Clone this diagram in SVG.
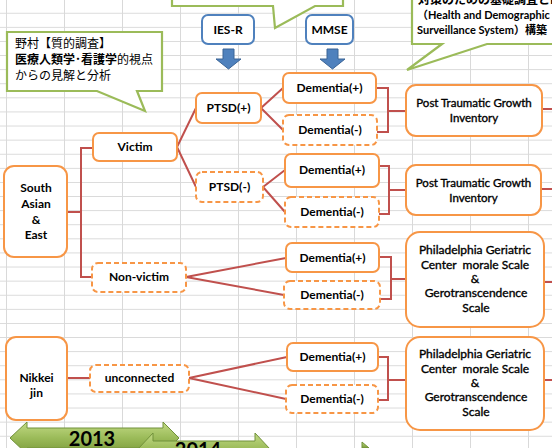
<svg xmlns="http://www.w3.org/2000/svg" width="552" height="448" viewBox="0 0 552 448">
<defs>
<pattern id="grid" x="0" y="-0.4" width="58" height="14.1" patternUnits="userSpaceOnUse">
<path d="M6.5 0V14.1" stroke="#d9d9d9" stroke-width="1" fill="none"/>
<path d="M0 13.6H58" stroke="#d9d9d9" stroke-width="1" fill="none"/>
</pattern>
<linearGradient id="green" x1="0" y1="0" x2="0" y2="1">
<stop offset="0" stop-color="#c2da85"/>
<stop offset="0.5" stop-color="#9bbb59"/>
<stop offset="1" stop-color="#7a9a3a"/>
</linearGradient>
<style>
.node{fill:#fff;stroke:#f79646;stroke-width:2}
.dash{stroke-dasharray:5 3}
.blue{fill:#fff;stroke:#4f81bd;stroke-width:2}
.barrow{fill:#4f81bd;stroke:#3a6496;stroke-width:1}
.call{fill:#fff;stroke:#9bbb59;stroke-width:2.2}
.con{fill:none;stroke:#c0504d;stroke-width:2}
.t{font-family:Lato,"Liberation Sans","Noto Sans CJK JP",sans-serif;font-weight:bold;font-size:12px;fill:#000;text-anchor:middle}
.m{font-weight:normal;stroke:#000;stroke-width:0.35}
.p{font-size:11.5px}
.s{font-size:12px}
.c{font-size:11px;text-anchor:start}
.j{font-family:"Noto Sans CJK JP",sans-serif;font-size:12px;fill:#000}
.yr{font-family:Lato,"Liberation Sans",sans-serif;font-weight:bold;font-size:20px;fill:#000;text-anchor:middle}
.garrow{fill:url(#green);stroke:#71913a;stroke-width:1}
</style>
</defs>
<rect x="0" y="0" width="552" height="448" fill="#fff"/>
<rect x="0" y="0" width="552" height="448" fill="url(#grid)"/>

<g id="callout-top">
<path class="call" d="M172 -5V6H273L275 28L315 6H343V-5"/>
</g>
<g id="callout-right">
<path class="call" d="M412 -5V44H442L407 70L487 44H560V-5Z"/>
<text class="j" font-weight="bold" font-size="11" x="418" y="4">対策のための基礎調査とH</text>
<text class="t c" x="417" y="19">（Health and Demographic</text>
<text class="t c" x="417" y="34">Surveillance System）構築</text>
</g>
<g id="callout-left">
<path class="call" d="M7 32H162V91H137L145 111L97 91H7Z"/>
<text class="j" x="15" y="48">野村【質的調査】</text>
<text class="j" x="15" y="64"><tspan font-weight="bold">医療人類学･看護学</tspan>的視点</text>
<text class="j" x="15" y="80">からの見解と分析</text>
</g>

<g id="ies-r">
<rect class="blue" x="202" y="15" width="52" height="29" rx="6"/>
<text class="t" x="228" y="34">IES-R</text>
<path class="barrow" d="M223 49H234V59H241L228.5 69L216 59H223Z"/>
</g>
<g id="mmse">
<rect class="blue" x="306" y="15" width="47" height="29" rx="6"/>
<text class="t" x="329.5" y="34">MMSE</text>
<path class="barrow" d="M327 49H338V59H345L332.5 69L320 59H327Z"/>
</g>

<g id="connectors">
<path class="con" d="M67 212H81M93 148H81V277H92"/>
<path class="con" d="M177 147L196 108M177 147L196 187"/>
<path class="con" d="M261 108L283 88M261 108L283 130"/>
<path class="con" d="M263 187L285 170M263 187L285 212"/>
<path class="con" d="M186 277L286 258M186 277L284 295"/>
<path class="con" d="M67 378H90"/>
<path class="con" d="M189 378L287 357M189 378L286 399"/>
<path class="con" d="M376 88H388V132H377M388 111H406"/>
<path class="con" d="M379 166H389V214H379M389 190H406"/>
<path class="con" d="M379 257H391V299H380M391 279H406"/>
<path class="con" d="M378 357H388V400H378M388 380H406"/>
<path class="con" d="M542 109H552M541 189H552M544 282H552M544 380H552"/>
</g>

<g id="south-asian-east">
<rect class="node" x="4" y="166" width="63" height="91" rx="10"/>
<text class="t" x="36" y="192">South</text>
<text class="t" x="36" y="208">Asian</text>
<text class="t" x="36" y="224">&amp;</text>
<text class="t" x="36" y="239">East</text>
</g>
<g id="victim">
<rect class="node" x="93" y="133" width="84" height="28" rx="6"/>
<text class="t" x="135" y="151">Victim</text>
</g>
<g id="ptsd-pos">
<rect class="node" x="196" y="93" width="65" height="30" rx="6"/>
<text class="t" x="228.5" y="112">PTSD(+)</text>
</g>
<g id="ptsd-neg">
<rect class="node dash" x="196" y="172" width="67" height="30" rx="6"/>
<text class="t" x="229.5" y="191">PTSD(-)</text>
</g>
<g id="non-victim">
<rect class="node dash" x="92" y="263" width="94" height="29" rx="6"/>
<text class="t" x="139" y="281">Non-victim</text>
</g>
<g id="nikkei-jin">
<rect class="node" x="6" y="337" width="61" height="83" rx="10"/>
<text class="t" x="36.5" y="382">Nikkei</text>
<text class="t" x="36.5" y="397">jin</text>
</g>
<g id="unconnected">
<rect class="node dash" x="90" y="365" width="99" height="27" rx="6"/>
<text class="t" x="139.5" y="382">unconnected</text>
</g>

<g id="dementia-1-pos">
<rect class="node" x="283" y="73" width="93" height="30" rx="6"/>
<text class="t" x="329.5" y="92">Dementia(+)</text>
</g>
<g id="dementia-1-neg">
<rect class="node dash" x="283" y="115" width="94" height="30" rx="6"/>
<text class="t" x="330" y="134">Dementia(-)</text>
</g>
<g id="dementia-2-pos">
<rect class="node" x="285" y="154" width="94" height="33" rx="6"/>
<text class="t" x="332" y="174">Dementia(+)</text>
</g>
<g id="dementia-2-neg">
<rect class="node dash" x="285" y="197" width="94" height="30" rx="6"/>
<text class="t" x="332" y="216">Dementia(-)</text>
</g>
<g id="dementia-3-pos">
<rect class="node" x="286" y="243" width="93" height="29" rx="6"/>
<text class="t" x="332.5" y="262">Dementia(+)</text>
</g>
<g id="dementia-3-neg">
<rect class="node dash" x="284" y="281" width="96" height="28" rx="6"/>
<text class="t" x="332" y="299">Dementia(-)</text>
</g>
<g id="dementia-4-pos">
<rect class="node" x="287" y="343" width="91" height="28" rx="6"/>
<text class="t" x="332.5" y="361">Dementia(+)</text>
</g>
<g id="dementia-4-neg">
<rect class="node dash" x="286" y="385" width="92" height="28" rx="6"/>
<text class="t" x="332" y="403">Dementia(-)</text>
</g>

<g id="ptgi-1">
<rect class="node" x="406" y="85" width="136" height="51" rx="10"/>
<text class="t m p" x="474" y="107">Post Traumatic Growth</text>
<text class="t m p" x="474" y="122">Inventory</text>
</g>
<g id="ptgi-2">
<rect class="node" x="406" y="165" width="135" height="50" rx="10"/>
<text class="t m p" x="473.5" y="187">Post Traumatic Growth</text>
<text class="t m p" x="473.5" y="202">Inventory</text>
</g>
<g id="pgc-1">
<rect class="node" x="406" y="232" width="138" height="95" rx="14"/>
<text class="t m s" x="475" y="254">Philadelphia Geriatric</text>
<text class="t m s" x="475" y="269" xml:space="preserve">Center  morale Scale</text>
<text class="t m s" x="475" y="283">&amp;</text>
<text class="t m s" x="476" y="297">Gerotranscendence</text>
<text class="t m s" x="476" y="312">Scale</text>
</g>
<g id="pgc-2">
<rect class="node" x="406" y="337" width="138" height="93" rx="14"/>
<text class="t m s" x="475" y="358">Philadelphia Geriatric</text>
<text class="t m s" x="475" y="373" xml:space="preserve">Center  morale Scale</text>
<text class="t m s" x="475" y="387">&amp;</text>
<text class="t m s" x="476" y="401">Gerotranscendence</text>
<text class="t m s" x="476" y="416">Scale</text>
</g>

<g id="year-2013">
<path class="garrow" d="M10 438L27 422V428H163V422L179 438L163 454V448H27V454Z"/>
<text class="yr" x="92" y="446">2013</text>
</g>
<g id="year-2014">
<path class="garrow" d="M138 449L153 433V441H255V433L270 449L255 465V457H153V465Z"/>
<text class="yr" x="198" y="457">2014</text>
</g>
<g id="year-next">
<path class="garrow" d="M362 442L369 448H362Z"/>
</g>
</svg>
